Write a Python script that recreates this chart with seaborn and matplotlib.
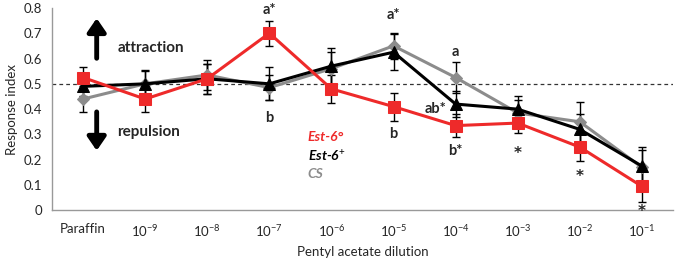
import numpy as np
import pandas as pd
import seaborn as sns
import matplotlib.pyplot as plt

dilutions = ["Paraffin", "$10^{-9}$", "$10^{-8}$", "$10^{-7}$", "$10^{-6}$",
             "$10^{-5}$", "$10^{-4}$", "$10^{-3}$", "$10^{-2}$", "$10^{-1}$"]

est6_null = [0.525, 0.44, 0.52, 0.70, 0.48, 0.41, 0.335, 0.345, 0.25, 0.095]
est6_null_err = [0.04, 0.05, 0.06, 0.05, 0.055, 0.055, 0.045, 0.04, 0.055, 0.06]
est6_plus = [0.49, 0.50, 0.52, 0.50, 0.57, 0.625, 0.42, 0.40, 0.32, 0.175]
est6_plus_err = [0.04, 0.055, 0.06, 0.065, 0.07, 0.07, 0.05, 0.05, 0.06, 0.075]
cs = [0.44, 0.50, 0.535, 0.485, 0.56, 0.65, 0.525, 0.385, 0.35, 0.17]
cs_err = [0.05, 0.05, 0.06, 0.05, 0.065, 0.05, 0.06, 0.05, 0.08, 0.07]

sns.set_style("white")
plt.rcParams['font.family'] = ['Lato', 'DejaVu Sans']
plt.rcParams['mathtext.fontset'] = 'custom'
plt.rcParams['mathtext.rm'] = 'Lato'
plt.rcParams['mathtext.it'] = 'Lato:italic'
plt.rcParams['mathtext.bf'] = 'Lato:bold'

fig = plt.figure(figsize=(6.75, 2.63), dpi=100)
ax = fig.add_axes([0.077, 0.2, 0.92, 0.77])

x = np.arange(len(dilutions))
series = [
    (cs, cs_err, "#8c8c8c", "D", 6, "CS"),
    (est6_plus, est6_plus_err, "black", "^", 8, "Est-6+"),
    (est6_null, est6_null_err, "#ee2a2a", "s", 8, "Est-6°"),
]
for vals, errs, color, marker, ms, name in series:
    ax.errorbar(x, vals, yerr=errs, fmt="none", ecolor="black", elinewidth=1,
                capsize=3, capthick=1, zorder=2)
    df = pd.DataFrame({"x": x, "y": vals})
    sns.lineplot(data=df, x="x", y="y", color=color, marker=marker,
                 markersize=ms, markeredgecolor=color, linewidth=2.2, ax=ax, zorder=3)

ax.axhline(0.5, color="#333333", linestyle=(0, (3, 2.5)), linewidth=0.9, zorder=1)

ax.set_xlim(-0.5, 9.5)
ax.set_ylim(0, 0.8)
ax.set_yticks(np.arange(0, 0.81, 0.1))
ax.set_yticklabels(["0", "0.1", "0.2", "0.3", "0.4", "0.5", "0.6", "0.7", "0.8"])
ax.set_xticks(x)
ax.set_xticklabels(dilutions)
ax.set_xticks(np.arange(-0.5, 10, 1), minor=True)
ax.tick_params(axis="x", which="major", length=0, labelsize=9.5, pad=9)
ax.tick_params(axis="x", which="minor", length=4, color="#999999", direction="out")
ax.tick_params(axis="y", length=4, color="#999999", direction="out", labelsize=9.5, pad=3)
for s in ["top", "right"]:
    ax.spines[s].set_visible(False)
for s in ["left", "bottom"]:
    ax.spines[s].set_color("#999999")
    ax.spines[s].set_linewidth(1)
ax.set_xlabel("Pentyl acetate dilution", fontsize=9.5, labelpad=5)
ax.set_ylabel("Response index", fontsize=9.5, labelpad=4)

# arrows
ax.annotate("", xy=(0.22, 0.77), xytext=(0.22, 0.59),
            arrowprops=dict(arrowstyle="-|>,head_width=0.55,head_length=0.8", color="black", lw=3.5))
ax.annotate("", xy=(0.22, 0.225), xytext=(0.22, 0.40),
            arrowprops=dict(arrowstyle="-|>,head_width=0.55,head_length=0.8", color="black", lw=3.5))
ax.text(0.55, 0.64, "attraction", fontsize=11, fontweight="bold", va="center")
ax.text(0.55, 0.31, "repulsion", fontsize=11, fontweight="bold", va="center")

# significance labels
labels = [(3, 0.79, "a*"), (3, 0.365, "b"), (5, 0.77, "a*"), (5, 0.30, "b"),
          (6, 0.625, "a"), (5.68, 0.40, "ab*"), (6, 0.235, "b*")]
for lx, ly, t in labels:
    ax.text(lx, ly, t, fontsize=10.5, fontweight="bold", ha="center", va="center")
stars = [(7, 0.225), (8, 0.135), (9, -0.005)]
for lx, ly in stars:
    ax.text(lx, ly, "*", fontsize=11, fontweight="bold", ha="center", va="center",
            family="DejaVu Sans")

# legend text
ax.text(3.62, 0.29, "Est-6°", color="#ee2a2a", fontsize=10, fontweight="bold", style="italic", va="center")
ax.text(3.62, 0.215, "Est-6$^{+}$", color="black", fontsize=10, fontweight="bold", style="italic", va="center")
ax.text(3.62, 0.145, "CS", color="#8c8c8c", fontsize=10, fontweight="bold", style="italic", va="center")

fig.savefig("out.png", dpi=100)
